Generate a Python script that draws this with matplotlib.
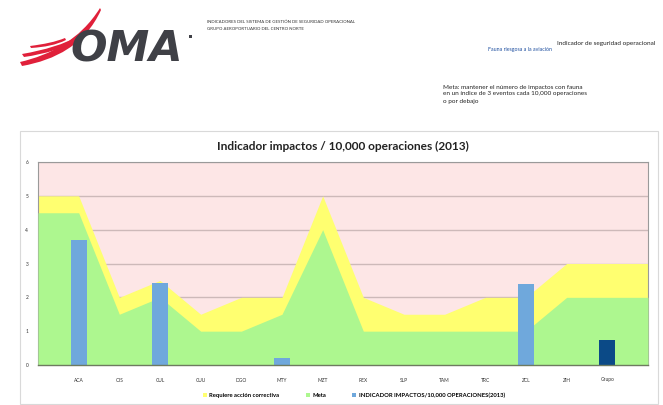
import numpy as np
import matplotlib.pyplot as plt
from matplotlib.patches import Rectangle, PathPatch
from matplotlib.path import Path

PINK = "#FDE6E6"
YELLOW = "#FFFF70"
GREEN = "#ADF78F"
BLUE = "#6FA8DC"
NAVY = "#0B4A87"
GRID = "#CDB9B9"

airports = ["ACA", "CJS", "CUL", "CUU", "DGO", "MTY", "MZT",
            "REX", "SLP", "TAM", "TRC", "ZCL", "ZIH", "Grupo"]
accion = [5, 2, 2.5, 1.5, 2, 2, 5, 2, 1.5, 1.5, 2, 2, 3, 3]
meta = [4.5, 1.5, 2, 1, 1, 1.5, 4, 1, 1, 1, 1, 1, 2, 2]
impactos = [3.7, 0, 2.42, 0, 0, 0.22, 0, 0, 0, 0, 0, 2.38, 0, 0.74]
y_ticks = [0, 1, 2, 3, 4, 5, 6]

W, H = 663, 405
fig = plt.figure(figsize=(W / 100, H / 100), dpi=100)
plt.rcParams['font.family'] = ['Lato', 'DejaVu Sans']

# page layer in pixel coords (header, logo, chart frame)
page = fig.add_axes([0, 0, 1, 1])
page.set_xlim(0, W)
page.set_ylim(H, 0)
page.axis("off")

page.add_patch(Rectangle((20, 131), 638, 273, fill=False, ec="#D9D9D9", lw=0.8))

# logo swoosh
def swoosh(p0, c1, c2, p1, q1, d2, d1, q0, color):
    verts = [p0, c1, c2, p1, q1, d2, d1, q0, p0]
    codes = [Path.MOVETO, Path.CURVE4, Path.CURVE4, Path.CURVE4,
             Path.LINETO, Path.CURVE4, Path.CURVE4, Path.CURVE4, Path.CLOSEPOLY]
    page.add_patch(PathPatch(Path(verts, codes), fc=color, ec="none"))

red = "#E0203A"
swoosh((20, 62), (50, 55), (80, 40), (100, 8), (101, 10), (85, 45), (55, 60), (22, 66), red)
swoosh((22, 54), (45, 50), (65, 44), (78, 36), (80, 38), (66, 48), (45, 54), (24, 57), red)
swoosh((30, 46), (45, 44), (55, 42), (65, 38), (66, 40), (56, 45), (45, 47), (31, 48), red)
page.text(70, 62, "OMA", fontsize=31, fontweight="bold", style="italic",
          color="#3F4046", family="DejaVu Sans", va="baseline")
page.add_patch(Rectangle((189, 35), 3, 3, fc="#3F4046", ec="none"))

page.text(207, 22, "INDICADORES DEL SISTEMA DE GESTIÓN DE SEGURIDAD OPERACIONAL",
          fontsize=3.2, va="center", color="#333333")
page.text(207, 29, "GRUPO AEROPORTUARIO DEL CENTRO NORTE",
          fontsize=3.2, va="center", color="#333333")
page.text(655, 43, "Indicador de seguridad operacional", fontsize=4.6,
          ha="right", va="center", color="#222222")
page.text(488, 50, "Fauna riesgosa a la aviación", fontsize=3.8,
          va="center", color="#2050A0")
page.text(443, 87, "Meta: mantener el número de impactos con fauna", fontsize=4.6,
          va="center", color="#222222")
page.text(443, 94, "en un índice de 3 eventos cada 10,000 operaciones", fontsize=4.6,
          va="center", color="#222222")
page.text(443, 101, "o por debajo", fontsize=4.6, va="center", color="#222222")

# chart
ax = fig.add_axes([38 / W, 1 - 365 / H, (648 - 38) / W, (365 - 162) / H])
ax.set_facecolor(PINK)

x = np.arange(len(airports))
xs = np.concatenate([[-1], x, [len(airports)]])
acc_ext = [accion[0]] + accion + [accion[-1]]
meta_ext = [meta[0]] + meta + [meta[-1]]

ax.fill_between(xs, 0, acc_ext, color=YELLOW, lw=0, zorder=2,
                label="Requiere acción correctiva")
ax.fill_between(xs, 0, meta_ext, color=GREEN, lw=0, zorder=3, label="Meta")
bar_colors = [BLUE] * (len(airports) - 1) + [NAVY]
ax.bar(x, impactos, width=0.39, color=bar_colors, zorder=4,
       label="INDICADOR IMPACTOS/10,000 OPERACIONES(2013)")

ax.set_xlim(-1, len(airports))
ax.set_ylim(0, 6)
ax.set_yticks(y_ticks)
ax.set_yticklabels([str(t) for t in y_ticks], fontsize=3.5, color="#333333")
ax.set_xticks(x)
ax.set_xticklabels(airports, fontsize=3.5, color="#333333")
ax.tick_params(length=0, pad=7)
ax.tick_params(axis="x", pad=9)
ax.grid(axis="y", color=GRID, lw=1.0, zorder=1)
ax.set_axisbelow(True)
for side in ["top", "right", "left"]:
    ax.spines[side].set_color("#9A9A9A")
    ax.spines[side].set_linewidth(0.8)
ax.spines["bottom"].set_color("#6E7A60")
ax.spines["bottom"].set_linewidth(1.0)
ax.spines["bottom"].set_zorder(5)

fig.text(343 / W, 1 - 146 / H, "Indicador impactos / 10,000 operaciones (2013)",
         fontsize=8.6, fontweight="bold", ha="center", va="center", color="#222222")

handles, labels = ax.get_legend_handles_labels()
leg = fig.legend(handles, labels, loc="center", bbox_to_anchor=(354 / W, 1 - 395 / H),
                 ncol=3, fontsize=4.2, frameon=False, handlelength=0.7, handleheight=0.7,
                 columnspacing=4.5, handletextpad=0.4)
for t in leg.get_texts():
    t.set_fontweight("bold")

fig.savefig("out.png", dpi=100)
